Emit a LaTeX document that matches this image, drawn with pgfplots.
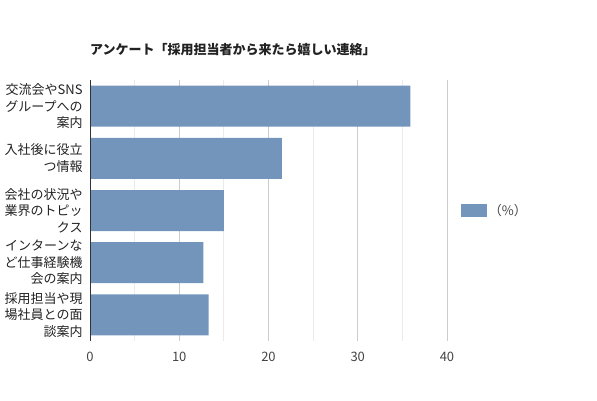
\documentclass[border=0pt]{standalone}
\usepackage{fontspec}
\setmainfont{Noto Sans CJK JP}
\usepackage{pgfplots}
\pgfplotsset{compat=1.18}
\definecolor{barblue}{HTML}{7395BB}
\definecolor{txt}{HTML}{222222}
\definecolor{ticktxt}{HTML}{444444}
\definecolor{gridc}{HTML}{CCCCCC}
\definecolor{minorc}{HTML}{EBEBEB}
\definecolor{axisc}{HTML}{333333}

\begin{document}
\begin{tikzpicture}[x=1pt,y=1pt]
\path[use as bounding box] (0,0) rectangle (597,400);
\node[anchor=west, text=txt, font=\fontsize{13}{15}\selectfont\bfseries, inner sep=0pt] at (90,350)
  {アンケート「採用担当者から来たら嬉しい連絡」};
\begin{axis}[
  at={(90pt,59pt)}, anchor=south west,
  width=357pt, height=261pt, scale only axis,
  xbar, bar width=41pt,
  xmin=0, xmax=40, ymin=-0.5, ymax=4.5, y dir=reverse,
  xtick={0,10,20,30,40}, minor x tick num=1,
  ytick={0,1,2,3,4},
  yticklabels={{交流会やSNS\\グループへの\\案内},
               {入社後に役立\\つ情報},
               {会社の状況や\\業界のトピッ\\クス},
               {インターンな\\ど仕事経験機\\会の案内},
               {採用担当や現\\場社員との面\\談案内}},
  yticklabel style={align=right, font=\fontsize{13}{16.5}\selectfont, text=txt, inner sep=0pt, xshift=-3pt},
  xticklabel style={font=\fontsize{13}{15}\selectfont, text=ticktxt, anchor=center, yshift=-16pt},
  /pgf/number format/assume math mode=true,
  xmajorgrids, xminorgrids,
  major grid style={gridc, line width=0.8pt},
  minor grid style={minorc, line width=0.8pt},
  axis line style={draw=none},
  tick style={draw=none},
  legend style={at={(1.03,0.5)}, anchor=west, draw=none, fill=none,
    font=\fontsize{13}{15}\selectfont, text=ticktxt},
  legend image code/.code={\fill[barblue] (0pt,-6.3pt) rectangle (26pt,6.3pt);},
]
\addplot[fill=barblue, draw=none] coordinates {
  (35.9,0) (21.5,1) (15.0,2) (12.7,3) (13.3,4)
};
\addlegendentry{（\%）}
\draw[axisc, line width=1.2pt] (rel axis cs:0,0) -- (rel axis cs:0,1);
\end{axis}
\end{tikzpicture}
\end{document}
